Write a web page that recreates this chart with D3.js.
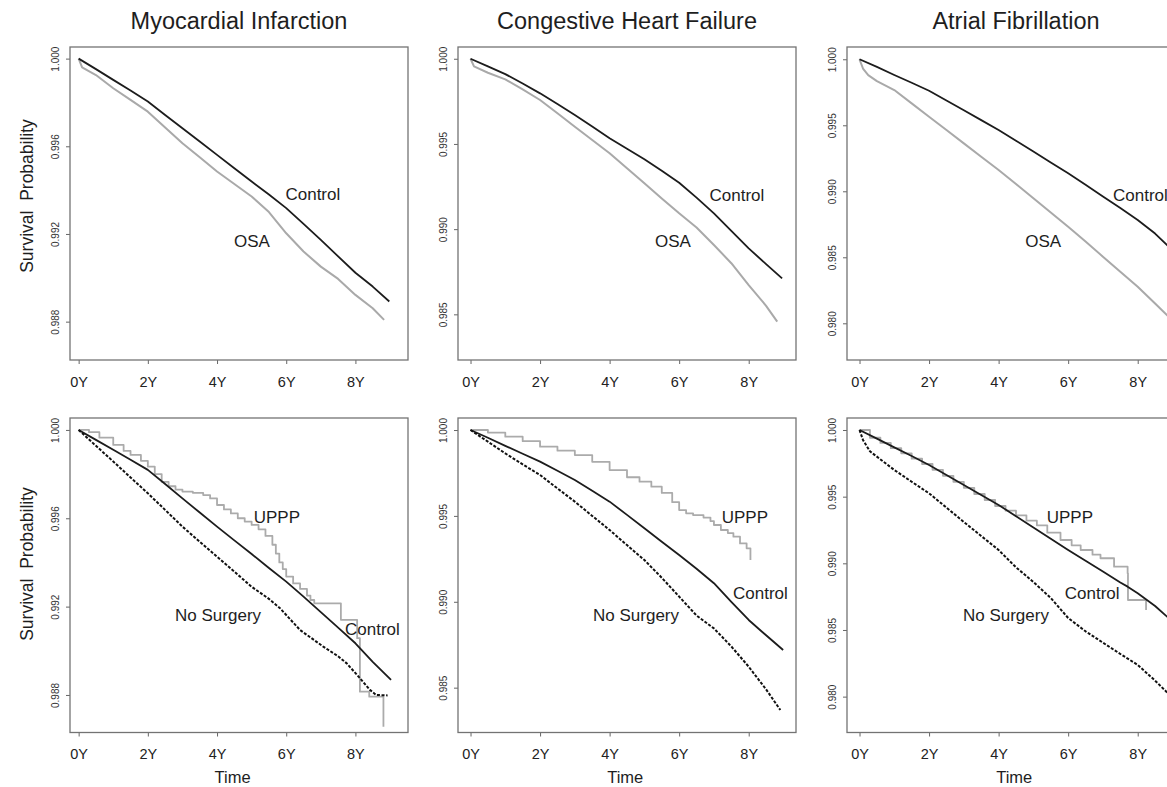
<!DOCTYPE html>
<html>
  <head>
    <style>
      body { margin: 0; background: #fff; }
      svg { display: block; font-family: "Liberation Sans", Arial, sans-serif; }
    </style>
  </head>

  <body>

    <svg class="surface" width="1167" height="787"></svg>

    <script src="https://cdn.jsdelivr.net/npm/d3@7"></script>
    <script>

      const titles = ['Myocardial Infarction', 'Congestive Heart Failure', 'Atrial Fibrillation']
      const xTicks = [0, 2, 4, 6, 8]
      const yTicksMI = [1.000, 0.996, 0.992, 0.988]
      const yTicksCHF = [1.000, 0.995, 0.990, 0.985]
      const yTicksAF = [1.000, 0.995, 0.990, 0.985, 0.980]

      // top row: OSA vs control, [year, survival]
      const miControl = [[0, 1], [0.5, 0.99952], [1, 0.99903], [1.5, 0.99855], [2, 0.99804], [2.5, 0.99743], [3, 0.99682], [3.5, 0.99622], [4, 0.99561], [4.5, 0.995], [5, 0.99439], [5.5, 0.9938], [6, 0.99318], [6.5, 0.99246], [7, 0.99173], [7.5, 0.99098], [8, 0.99023], [8.5, 0.9896], [8.98, 0.98892]]
      const miOsa = [[0, 1], [0.1, 0.9996], [0.5, 0.99925], [1, 0.99865], [1.5, 0.99812], [2, 0.99758], [2.5, 0.99686], [3, 0.99614], [3.5, 0.9955], [4, 0.99485], [4.5, 0.99428], [5, 0.99371], [5.5, 0.993], [6, 0.99203], [6.5, 0.9912], [7, 0.99051], [7.5, 0.98995], [8, 0.98922], [8.5, 0.98861], [8.83, 0.98808]]

      const chfControl = [[0, 1], [0.5, 0.99955], [1, 0.9991], [1.5, 0.99855], [2, 0.99797], [2.5, 0.99735], [3, 0.9967], [3.5, 0.99602], [4, 0.99533], [4.5, 0.99472], [5, 0.9941], [5.5, 0.99343], [6, 0.99272], [6.5, 0.99185], [7, 0.99093], [7.5, 0.9899], [8, 0.98887], [8.5, 0.98795], [8.96, 0.98711]]
      const chfOsa = [[0, 1], [0.1, 0.99955], [0.5, 0.99918], [1, 0.99879], [1.5, 0.9982], [2, 0.99758], [2.5, 0.9968], [3, 0.99601], [3.5, 0.99523], [4, 0.99445], [4.5, 0.99357], [5, 0.99269], [5.5, 0.9918], [6, 0.99093], [6.5, 0.9901], [7, 0.98907], [7.5, 0.988], [8, 0.98672], [8.5, 0.9855], [8.82, 0.98457]]

      const afControl = [[0, 1], [0.5, 0.99942], [1, 0.99881], [1.5, 0.99822], [2, 0.99762], [2.5, 0.99688], [3, 0.99614], [3.5, 0.99539], [4, 0.99464], [4.5, 0.99383], [5, 0.99301], [5.5, 0.99218], [6, 0.99136], [6.5, 0.9905], [7, 0.9896], [7.5, 0.98873], [8, 0.98783], [8.5, 0.9868], [8.97, 0.9856]]
      const afOsa = [[0, 1], [0.1, 0.9993], [0.25, 0.9988], [0.5, 0.99835], [1, 0.99767], [1.5, 0.99666], [2, 0.99565], [2.5, 0.99464], [3, 0.99363], [3.5, 0.99262], [4, 0.99161], [4.5, 0.99055], [5, 0.98948], [5.5, 0.9884], [6, 0.98732], [6.5, 0.9862], [7, 0.98505], [7.5, 0.9839], [8, 0.98277], [8.5, 0.9815], [8.97, 0.9803]]

      // bottom row: UPPP vs no surgery vs control
      const mi2Control = [[0, 1], [0.5, 0.99955], [1, 0.9991], [1.5, 0.99865], [2, 0.99819], [2.5, 0.99755], [3, 0.9969], [3.5, 0.99626], [4, 0.99562], [4.5, 0.995], [5, 0.99438], [5.5, 0.99375], [6, 0.99313], [6.5, 0.99245], [7, 0.99175], [7.5, 0.99105], [8, 0.99034], [8.5, 0.9895], [9.03, 0.98868]]
      const mi2NoSurgery = [[0, 1], [0.5, 0.99928], [1, 0.99857], [1.5, 0.99785], [2, 0.99713], [2.5, 0.99638], [3, 0.99562], [3.5, 0.99494], [4, 0.99426], [4.5, 0.99358], [5, 0.9929], [5.5, 0.99235], [5.82, 0.99193], [6.4, 0.99094], [7.07, 0.99019], [7.5, 0.98975], [7.75, 0.98943], [8.13, 0.98876], [8.42, 0.98823], [8.6, 0.988], [8.93, 0.98798]]
      const mi2Uppp = [[0, 1], [0.3, 0.9999], [0.6, 0.99965], [1, 0.99932], [1.3, 0.99905], [1.5, 0.99887], [1.8, 0.9986], [2, 0.99834], [2.2, 0.998], [2.4, 0.99765], [2.6, 0.99745], [2.8, 0.9973], [3, 0.99721], [3.3, 0.99715], [3.6, 0.99705], [3.8, 0.9969], [4, 0.9966], [4.2, 0.9964], [4.4, 0.99622], [4.6, 0.996], [4.8, 0.99585], [5, 0.9957], [5.2, 0.9955], [5.4, 0.9952], [5.6, 0.9948], [5.7, 0.9944], [5.8, 0.994], [5.9, 0.9937], [6, 0.99336], [6.2, 0.99305], [6.4, 0.9928], [6.6, 0.9925], [6.7, 0.9923], [6.81, 0.99215], [7.58, 0.9914], [8.05, 0.99057], [8.13, 0.98815], [8.4, 0.98792], [8.81, 0.98656]]

      const chf2Control = [[0, 1], [0.5, 0.99955], [1, 0.99908], [1.5, 0.99862], [2, 0.99816], [2.5, 0.99763], [3, 0.99709], [3.5, 0.99646], [4, 0.99583], [4.5, 0.99506], [5, 0.99428], [5.5, 0.9935], [6, 0.99272], [6.5, 0.99192], [7, 0.99108], [7.5, 0.99], [8, 0.98894], [8.5, 0.98805], [8.99, 0.98719]]
      const chf2NoSurgery = [[0, 1], [0.5, 0.99932], [1, 0.99864], [1.5, 0.998], [2, 0.99738], [2.5, 0.9966], [3, 0.99583], [3.5, 0.995], [4, 0.99418], [4.5, 0.9933], [5, 0.99243], [5.5, 0.9914], [6, 0.9903], [6.5, 0.9892], [7, 0.98845], [7.5, 0.9874], [8, 0.98622], [8.5, 0.9849], [8.91, 0.9837]]
      const chf2Uppp = [[0, 1], [0.5, 0.99985], [1, 0.99961], [1.5, 0.99935], [2, 0.99903], [2.5, 0.9988], [3, 0.99854], [3.5, 0.99815], [4, 0.99767], [4.5, 0.99725], [4.86, 0.99699], [5.2, 0.9967], [5.5, 0.99634], [5.8, 0.9958], [6, 0.99534], [6.2, 0.99515], [6.4, 0.99505], [6.7, 0.9949], [6.9, 0.9947], [7, 0.99447], [7.2, 0.99418], [7.4, 0.994], [7.56, 0.99379], [7.75, 0.9934], [7.94, 0.99311], [8.05, 0.99243]]

      const af2Control = [[0, 1], [0.5, 0.99935], [1, 0.9987], [1.5, 0.99805], [2, 0.99738], [2.5, 0.99663], [3, 0.99588], [3.5, 0.99513], [4, 0.99438], [4.5, 0.99353], [5, 0.99269], [5.5, 0.99185], [6, 0.991], [6.5, 0.99019], [7, 0.98938], [7.5, 0.98856], [7.71, 0.98825], [8, 0.98775], [8.5, 0.9868], [8.97, 0.9857]]
      const af2NoSurgery = [[0, 1], [0.1, 0.99925], [0.3, 0.9984], [0.5, 0.998], [1, 0.997], [1.5, 0.99612], [2, 0.99525], [2.5, 0.99418], [3, 0.9931], [3.5, 0.99205], [4, 0.991], [4.5, 0.9897], [5, 0.9886], [5.5, 0.9874], [6, 0.9859], [6.5, 0.9849], [7, 0.98405], [7.5, 0.9832], [8, 0.98238], [8.5, 0.9812], [8.97, 0.98]]
      const af2Uppp = [[0, 1], [0.3, 0.99942], [0.6, 0.99903], [0.9, 0.99864], [1.2, 0.99825], [1.5, 0.99785], [1.8, 0.99745], [2.1, 0.99701], [2.4, 0.99656], [2.7, 0.99611], [3, 0.99566], [3.3, 0.9952], [3.6, 0.99475], [3.9, 0.9943], [4.2, 0.99395], [4.5, 0.9936], [4.8, 0.9932], [5.1, 0.99285], [5.4, 0.9923], [5.78, 0.99175], [6.1, 0.99135], [6.36, 0.991], [6.7, 0.99065], [6.93, 0.99038], [7.32, 0.98975], [7.71, 0.98925], [7.72, 0.98725], [8.24, 0.9865]]

      const surface = d3.select('.surface')

      const cols = [
        {x0: 70, x1: 408, xd: [-0.25, 9.52]},
        {x0: 458, x1: 796, xd: [-0.36, 9.36]},
        {x0: 847, x1: 1185, xd: [-0.36, 9.36]}
      ]
      const rows = [{y0: 47, y1: 360}, {y0: 418, y1: 732.5}]

      const styles = {
        control: {stroke: '#1c1c1c', width: 1.8, dash: null, curve: d3.curveLinear},
        osa: {stroke: '#a9a9a9', width: 2, dash: null, curve: d3.curveLinear},
        uppp: {stroke: '#ababab', width: 1.8, dash: null, curve: d3.curveStepAfter},
        none: {stroke: '#111', width: 2, dash: '3,1.6', curve: d3.curveLinear}
      }

      // label positions given in data units [year, survival]
      const panels = [
        {row: 0, col: 0, yd: [0.98625, 1.00053], ticks: yTicksMI,
          series: [[miOsa, 'osa'], [miControl, 'control']],
          labels: [['Control', 6.77, 0.99383, 'middle'], ['OSA', 5.01, 0.99168, 'middle']]},
        {row: 0, col: 1, yd: [0.98232, 1.00069], ticks: yTicksCHF,
          series: [[chfOsa, 'osa'], [chfControl, 'control']],
          labels: [['Control', 7.66, 0.992, 'middle'], ['OSA', 5.82, 0.9893, 'middle']]},
        {row: 0, col: 2, yd: [0.97722, 1.00093], ticks: yTicksAF,
          series: [[afOsa, 'osa'], [afControl, 'control']],
          labels: [['Control', 7.29, 0.98972, 'start'], ['OSA', 5.28, 0.98623, 'middle']]},
        {row: 1, col: 0, yd: [0.9863, 1.00054], ticks: yTicksMI,
          series: [[mi2Uppp, 'uppp'], [mi2Control, 'control'], [mi2NoSurgery, 'none']],
          labels: [['UPPP', 5.73, 0.99606, 'middle'], ['No Surgery', 4.03, 0.99162, 'middle'], ['Control', 7.7, 0.99099, 'start']]},
        {row: 1, col: 1, yd: [0.98239, 1.0007], ticks: yTicksCHF,
          series: [[chf2Uppp, 'uppp'], [chf2Control, 'control'], [chf2NoSurgery, 'none']],
          labels: [['UPPP', 7.89, 0.99494, 'middle'], ['No Surgery', 4.76, 0.98923, 'middle'], ['Control', 7.55, 0.99051, 'start']]},
        {row: 1, col: 2, yd: [0.97731, 1.0009], ticks: yTicksAF,
          series: [[af2Uppp, 'uppp'], [af2Control, 'control'], [af2NoSurgery, 'none']],
          labels: [['UPPP', 6.05, 0.99347, 'middle'], ['Control', 6.69, 0.98777, 'middle'], ['No Surgery', 4.21, 0.98613, 'middle']]}
      ]

      panels.forEach(p => {
        const c = cols[p.col]
        const r = rows[p.row]
        const x = d3.scaleLinear().domain(c.xd).range([c.x0, c.x1])
        const y = d3.scaleLinear().domain(p.yd).range([r.y1, r.y0])
        const g = surface.append('g')

        // x axis
        const xa = g.append('g')
          .attr('transform', `translate(0,${r.y1})`)
          .call(d3.axisBottom(x).tickValues(xTicks).tickSize(4).tickFormat(d => d + 'Y'))
        xa.select('.domain').remove()
        xa.selectAll('line').attr('stroke', '#666')
        xa.selectAll('text')
          .attr('y', 26.5).attr('dy', 0)
          .attr('fill', '#222').style('font-size', '14.5px')

        // y axis, labels turned like R does
        const ya = g.append('g')
          .attr('transform', `translate(${c.x0},0)`)
          .call(d3.axisLeft(y).tickValues(p.ticks).tickSize(4).tickFormat(d3.format('.3f')))
        ya.select('.domain').remove()
        ya.selectAll('line').attr('stroke', '#666')
        ya.selectAll('text')
          .attr('x', 0).attr('y', -11.5).attr('dy', 0)
          .attr('transform', 'rotate(-90)')
          .attr('text-anchor', 'middle')
          .attr('fill', '#333').style('font-size', '10px')

        p.series.forEach(([data, kind]) => {
          const s = styles[kind]
          g.append('path')
            .datum(data)
            .attr('d', d3.line().x(d => x(d[0])).y(d => y(d[1])).curve(s.curve))
            .attr('fill', 'none')
            .attr('stroke', s.stroke)
            .attr('stroke-width', s.width)
            .attr('stroke-dasharray', s.dash)
            .attr('stroke-linejoin', 'round')
        })

        g.append('rect')
          .attr('x', c.x0).attr('y', r.y0)
          .attr('width', c.x1 - c.x0).attr('height', r.y1 - r.y0)
          .attr('fill', 'none').attr('stroke', '#737373').attr('stroke-width', 1.3)

        g.selectAll('.lbl')
          .data(p.labels)
          .enter().append('text')
          .attr('x', d => x(d[1]))
          .attr('y', d => y(d[2]))
          .attr('dy', '0.36em')
          .attr('text-anchor', d => d[3])
          .attr('fill', '#1e1e1e')
          .style('font-size', '17px')
          .text(d => d[0])

        if (p.row === 0) {
          g.append('text')
            .attr('x', (c.x0 + c.x1) / 2).attr('y', 29)
            .attr('text-anchor', 'middle')
            .attr('fill', '#1e1e1e')
            .style('font-size', '23.5px')
            .text(titles[p.col])
        } else {
          g.append('text')
            .attr('x', x(4.45)).attr('y', 783)
            .attr('text-anchor', 'middle')
            .attr('fill', '#1e1e1e')
            .style('font-size', '16.5px')
            .text('Time')
        }

        if (p.col === 0) {
          g.append('text')
            .attr('transform', `translate(33,${p.row === 0 ? 196 : 564}) rotate(-90)`)
            .attr('text-anchor', 'middle')
            .attr('fill', '#1e1e1e')
            .style('font-size', '17.5px')
            .style('white-space', 'pre')
            .text('Survival  Probability')
        }
      })

    </script>
  </body>

</html>
